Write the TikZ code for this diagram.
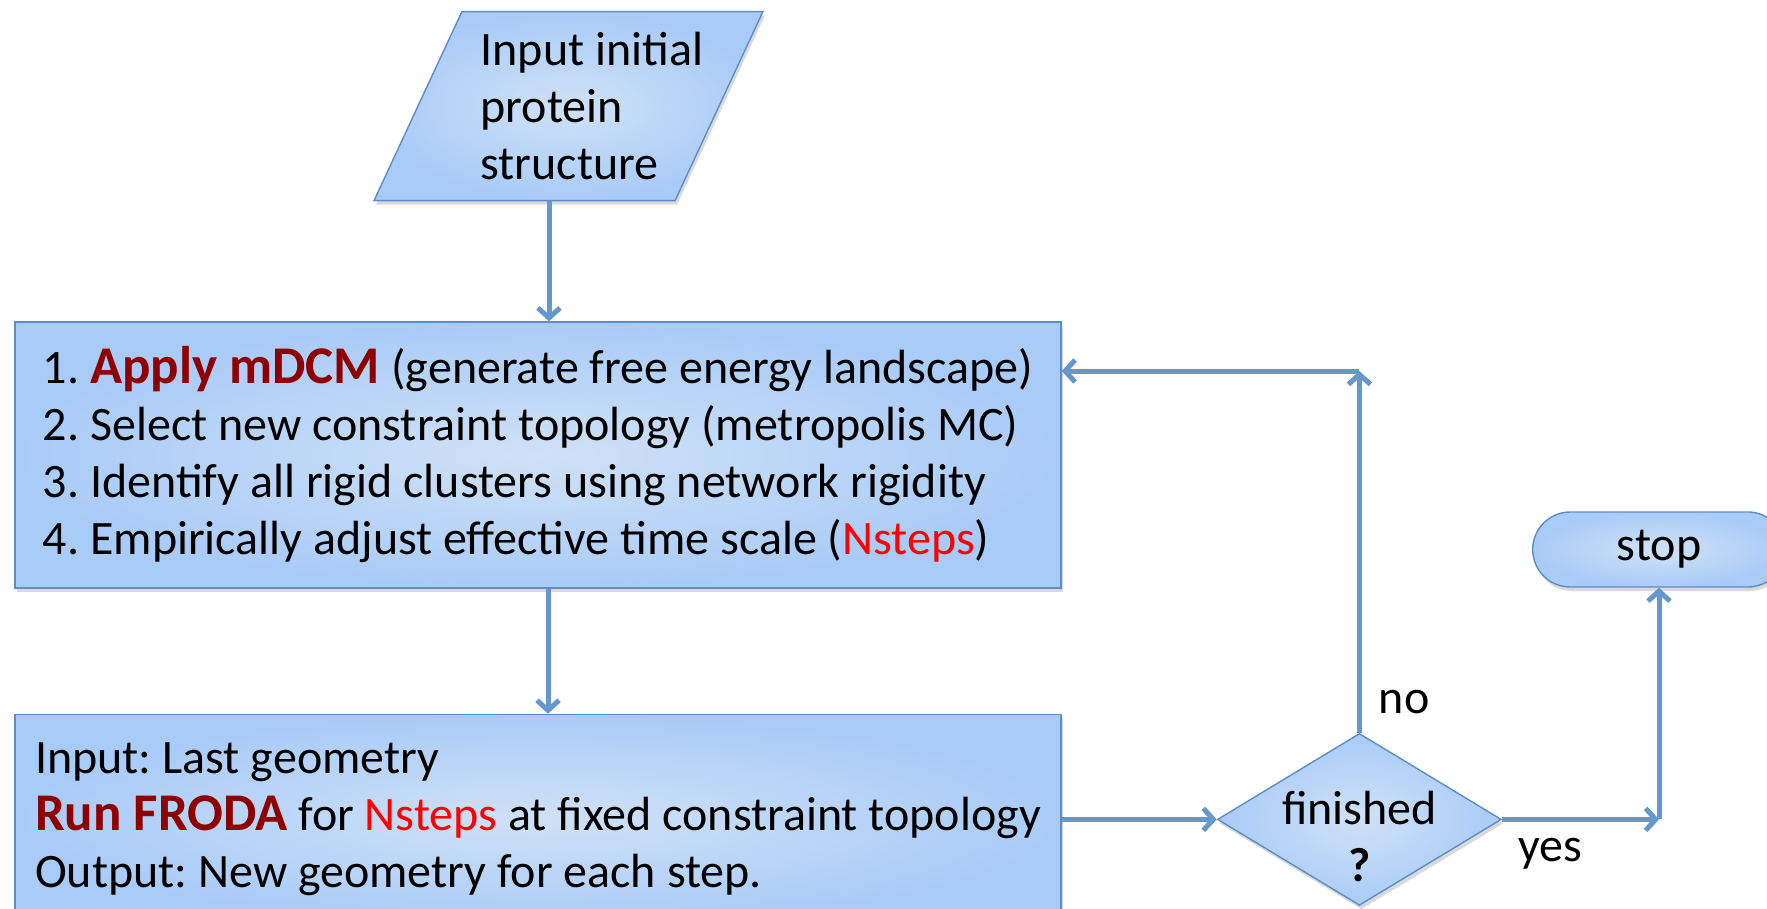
\documentclass[tikz,border=0pt]{standalone}
\usepackage{fontspec}
\setmainfont{Carlito}
\usetikzlibrary{arrows.meta,positioning,shapes.geometric,shapes.misc,shadows}
\definecolor{boxin}{HTML}{D0E1F6}
\definecolor{boxout}{HTML}{A9CBF8}
\definecolor{boxline}{HTML}{5B8DC8}
\definecolor{flowblue}{HTML}{6497CB}
\definecolor{darkred}{HTML}{8E0000}
\definecolor{brightred}{HTML}{FF0000}
\frenchspacing

\begin{document}
\begin{tikzpicture}[x=0.5pt, y=-0.5pt, >={Straight Barb[length=5pt, width=11pt]},
    txt/.style={font=\fontsize{24pt}{28.5pt}\selectfont},
    blob/.style={txt, draw=boxline, line width=0.7pt, shading=radial, inner color=boxin, outer color=boxout, drop shadow={shadow xshift=1pt, shadow yshift=-2pt, opacity=0.3}},
    procbox/.style={blob, rectangle, align=left, minimum width=523pt, minimum height=133pt},
    iobox/.style={blob, trapezium, trapezium left angle=67.6, trapezium right angle=112.4, trapezium stretches=true, minimum width=194.5pt, minimum height=94.5pt},
    decision/.style={blob, diamond, inner sep=0pt, minimum width=142pt, minimum height=86pt},
    endbox/.style={blob, rounded rectangle, minimum width=133pt, minimum height=37.5pt},
    flow/.style={->, draw=flowblue, line width=2.5pt},
    lbl/.style={txt, inner sep=0pt}]
    \useasboundingbox (0,0) rectangle (1767,909);

    \node[procbox] (mdcm) at (538,455) {1. \textcolor{darkred}{\textbf{\fontsize{26.5pt}{28.5pt}\selectfont Apply mDCM}} (generate free energy landscape)\\
        2. Select new constraint topology (metropolis MC)\\
        3. Identify all rigid clusters using network rigidity\\
        4. Empirically adjust effective time scale (\textcolor{brightred}{Nsteps})};
    \node[iobox, above=60pt of mdcm, xshift=15.25pt, label={[lbl, align=left, xshift=11.75pt]center:Input initial\\protein\\structure}] (input) {};
    \node[procbox, below=62.5pt of mdcm, minimum height=105pt] (froda) {Input: Last geometry\\
        \textcolor{darkred}{\textbf{\fontsize{26.5pt}{28.5pt}\selectfont Run FRODA}} for \textcolor{brightred}{Nsteps} at fixed constraint topology\\
        Output: New geometry for each step.};
    \node[decision, right=77.5pt of froda, label={[lbl, align=center, yshift=-8.5pt]center:finished\\\textbf{?}}] (done) {};
    \node[endbox] (stop) at (1659,549.5) {stop};

    \coordinate (ret) at ([yshift=42pt]mdcm.east);
    \coordinate (turn) at (done.north |- ret);
    \coordinate (up) at (stop.south |- done.east);

    \draw[flow] ([xshift=-9.75pt]input.south) -- ([xshift=5.5pt]mdcm.north);
    \draw[flow] ([xshift=5pt]mdcm.south) -- ([xshift=5pt]froda.north);
    \draw[flow] (froda.east) -- (done.west);
    \draw[flow] (done.north) -- (turn);
    \draw[flow] (turn) -- (ret);
    \draw[flow] (done.east) -- (up);
    \draw[flow] (up) -- (stop.south);

    \node[lbl, anchor=base west] (nolbl) at ([shift={(9.5pt,9.5pt)}]done.north) {no};
    \node[lbl, anchor=base west] (yeslbl) at ([shift={(8pt,-21pt)}]done.east) {yes};
\end{tikzpicture}
\end{document}
